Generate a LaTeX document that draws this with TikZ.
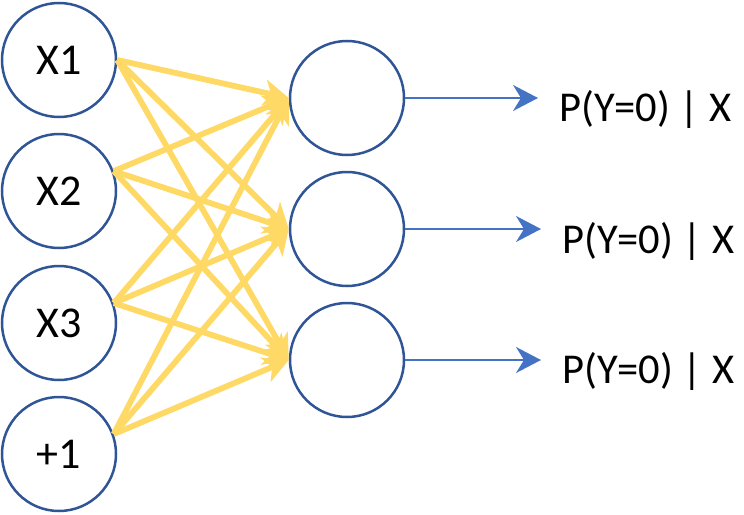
\documentclass[tikz,border=0pt]{standalone}
\usepackage{fontspec}
\setmainfont{Carlito}
\usetikzlibrary{arrows.meta}
\definecolor{ringblue}{HTML}{2F5597}
\definecolor{wireyellow}{HTML}{FFD966}
\definecolor{outblue}{HTML}{4472C4}
\begin{document}
\begin{tikzpicture}[x=1pt,y=-1pt,
  neuron/.style={circle,draw=ringblue,line width=2.5pt,minimum size=114pt,
    inner sep=0pt,font=\fontsize{44}{50}\selectfont},
  wire/.style={draw=wireyellow,line width=5.8pt,
    -{Stealth[length=25pt,width=26pt,inset=7pt]}},
  outarrow/.style={draw=outblue,line width=1.8pt,
    -{Stealth[length=25pt,width=26pt,inset=8pt]}},
  prob/.style={font=\fontsize{42.5}{50}\selectfont,inner sep=0pt,anchor=base west}]
\useasboundingbox (0,0) rectangle (744,514);

% input layer
\node[neuron] (x1) at (59,60)  {X1};
\node[neuron] (x2) at (59,191) {X2};
\node[neuron] (x3) at (59,323) {X3};
\node[neuron] (b)  at (59,454) {+1};

% output layer
\node[neuron] (o1) at (347,98)  {};
\node[neuron] (o2) at (347,229) {};
\node[neuron] (o3) at (347,360) {};

% output labels
\node[prob] (l1) at (559,121) {P(Y=0) | X};
\node[prob] (l2) at (562,253) {P(Y=0) | X};
\node[prob] (l3) at (562,383) {P(Y=0) | X};

% fully connected weights
\foreach \s in {x1.0,x2.20,x3.20,b.20}
  \foreach \t in {o1,o2,o3}
    \draw[wire] (\s) -- (\t.west);

% outputs
\foreach \o/\l in {o1/l1,o2/l2,o3/l3}
  \draw[outarrow,shorten >=21pt] (\o.east) -- (\o.east -| \l.west);
\end{tikzpicture}
\end{document}
